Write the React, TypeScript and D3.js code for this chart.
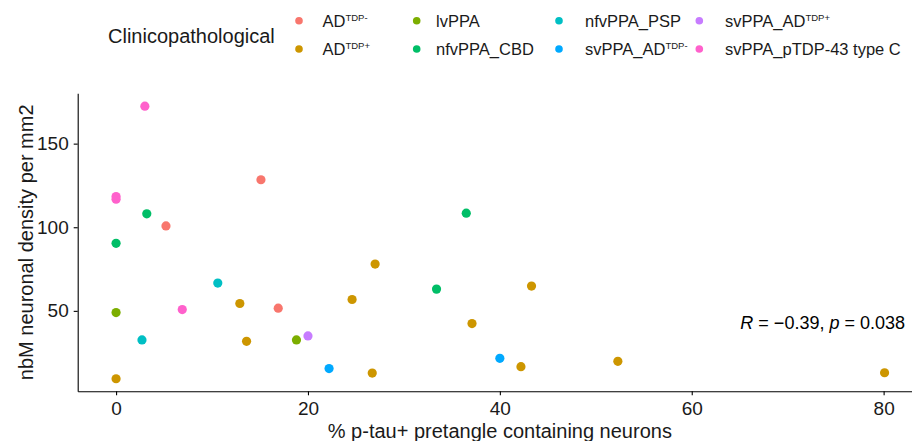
import * as d3 from "d3";
import { useEffect, useRef } from "react";

// groups in legend order, ggplot default hue palette
const groupNames = ["AD|TDP-", "AD|TDP+", "lvPPA", "nfvPPA_CBD", "nfvPPA_PSP", "svPPA_AD|TDP-", "svPPA_AD|TDP+", "svPPA_pTDP-43 type C"];
const groupColors = ["#F8766D", "#CD9600", "#7CAE00", "#00BE67", "#00BFC4", "#00A9FF", "#C77CFF", "#FF61CC"];

// points: group index, % p-tau+ pretangle neurons, nbM density
const pointGroup = [0, 0, 0, 1, 1, 1, 1, 1, 1, 1, 1, 1, 1, 1, 2, 2, 3, 3, 3, 3, 4, 4, 5, 5, 6, 7, 7, 7, 7];
const pointX = [15.1, 5.2, 16.9, 12.9, 13.6, 0, 27, 24.6, 43.3, 37.1, 26.7, 42.2, 52.3, 80.1, 0, 18.8, 3.2, 0, 36.5, 33.4, 10.6, 2.7, 22.2, 40, 20, 3, 0, 0, 6.9];
const pointY = [128.4, 100.8, 51.6, 54.4, 31.8, 9.4, 78, 56.8, 64.8, 42.4, 12.8, 16.6, 19.8, 13, 49, 32.6, 108, 90.4, 108.4, 63, 66.6, 32.6, 15.5, 21.6, 35, 172.4, 118.4, 116.8, 50.8];

const xTicks = [0, 20, 40, 60, 80];
const yTicks = [50, 100, 150];

const font = "'Liberation Sans', Arial, sans-serif";

const App = () => {
    const chartRef = useRef(null);
    const width = 912;
    const height = 441;
    const margin = { top: 93.3, bottom: 49.7, left: 77.7, right: -10 };

    useEffect(() => {
        const svg = d3.select(chartRef.current);
        svg.selectAll("*").remove();

        const scaleX = d3.scaleLinear().domain([-4, 84]).range([margin.left, width - margin.right]);
        const scaleY = d3.scaleLinear().domain([1.9, 180.1]).range([height - margin.bottom, margin.top]);

        svg.append("rect").attr("width", width).attr("height", height).style("fill", "white");

        const xAxis = svg.append("g")
            .attr("transform", `translate(0, ${height - margin.bottom})`)
            .call(d3.axisBottom(scaleX).tickValues(xTicks).tickSize(4).tickPadding(6).tickSizeOuter(0));
        const yAxis = svg.append("g")
            .attr("transform", `translate(${margin.left}, 0)`)
            .call(d3.axisLeft(scaleY).tickValues(yTicks).tickSize(4).tickPadding(5).tickSizeOuter(0));

        [xAxis, yAxis].forEach(ax => {
            ax.select(".domain").attr("stroke", "black").attr("stroke-width", 1.1);
            ax.selectAll(".tick line").attr("stroke", "black").attr("stroke-width", 1.1);
            ax.selectAll(".tick text").attr("fill", "#1a1a1a").style("font-family", font).style("font-size", "19px");
        });
        xAxis.selectAll(".tick text").attr("dy", "0.71em");

        svg.append("g").selectAll("circle")
            .data(pointX.map((x, i) => ({ x, y: pointY[i], g: pointGroup[i] })))
            .enter()
            .append("circle")
            .attr("cx", d => scaleX(d.x))
            .attr("cy", d => scaleY(d.y))
            .attr("r", 4.6)
            .style("fill", d => groupColors[d.g]);

        // axis titles
        svg.append("text")
            .attr("x", (margin.left + 922) / 2)
            .attr("y", 438)
            .attr("text-anchor", "middle")
            .style("font-family", font).style("font-size", "20px").attr("fill", "#1a1a1a")
            .text("% p-tau+ pretangle containing neurons");
        svg.append("text")
            .attr("transform", `translate(33, ${(margin.top + height - margin.bottom) / 2}) rotate(-90)`)
            .attr("text-anchor", "middle")
            .style("font-family", font).style("font-size", "20px").attr("fill", "#1a1a1a")
            .text("nbM neuronal density per mm2");

        // correlation label
        const ann = svg.append("text")
            .attr("x", 905).attr("y", 329)
            .attr("text-anchor", "end")
            .style("font-family", font).style("font-size", "18px").attr("fill", "black");
        ann.append("tspan").style("font-style", "italic").text("R");
        ann.append("tspan").text(" = \u22120.39, ");
        ann.append("tspan").style("font-style", "italic").text("p");
        ann.append("tspan").text(" = 0.038");

        // legend
        svg.append("text")
            .attr("x", 108).attr("y", 42.5)
            .style("font-family", font).style("font-size", "20px").attr("fill", "#1a1a1a")
            .text("Clinicopathological");

        const keyX = [299, 416.7, 559, 699.3];
        const labelX = [322.5, 436, 585, 725];
        const rowY = [20.7, 49];
        groupNames.forEach((name, i) => {
            const col = Math.floor(i / 2);
            const row = i % 2;
            svg.append("circle")
                .attr("cx", keyX[col]).attr("cy", rowY[row]).attr("r", 3.8)
                .style("fill", groupColors[i]);
            const t = svg.append("text")
                .attr("x", labelX[col]).attr("y", rowY[row] + 5.8)
                .style("font-family", font).style("font-size", "16.5px").attr("fill", "#1a1a1a");
            const parts = name.split("|");
            t.append("tspan").text(parts[0]);
            if (parts[1]) {
                t.append("tspan").attr("dy", -6).style("font-size", "9.5px").text(parts[1]);
            }
        });
    }, []);

    return (
        <svg ref={chartRef} width={width} height={height} style={{ position: "absolute", left: 0, top: 0 }}></svg>
    );
};

export default App;
